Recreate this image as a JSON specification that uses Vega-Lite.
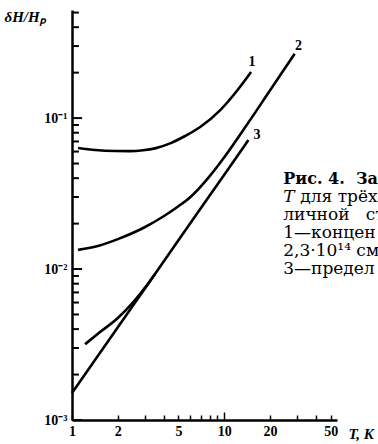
{
  "$schema": "https://vega.github.io/schema/vega-lite/v6.json",
  "width": 265,
  "height": 410,
  "autosize": {"type": "none"},
  "padding": {"left": 72, "top": 10, "right": 41, "bottom": 24},
  "background": "white",
  "config": {"view": {"stroke": null}},
  "datasets": {
    "curves": [
      {"curve": "1", "T": 1.095, "v": 0.0633},
      {"curve": "1", "T": 1.42, "v": 0.0614},
      {"curve": "1", "T": 1.92, "v": 0.0605},
      {"curve": "1", "T": 2.40, "v": 0.0604},
      {"curve": "1", "T": 2.93, "v": 0.0612},
      {"curve": "1", "T": 3.51, "v": 0.0630},
      {"curve": "1", "T": 4.41, "v": 0.0680},
      {"curve": "1", "T": 5.53, "v": 0.0761},
      {"curve": "1", "T": 6.95, "v": 0.0873},
      {"curve": "1", "T": 9.41, "v": 0.113},
      {"curve": "1", "T": 12.2, "v": 0.153},
      {"curve": "1", "T": 15.0, "v": 0.202},
      {"curve": "2", "T": 1.095, "v": 0.0134},
      {"curve": "2", "T": 1.5, "v": 0.01426},
      {"curve": "2", "T": 2, "v": 0.01578},
      {"curve": "2", "T": 3, "v": 0.01892},
      {"curve": "2", "T": 4, "v": 0.02238},
      {"curve": "2", "T": 5, "v": 0.02606},
      {"curve": "2", "T": 6, "v": 0.03001},
      {"curve": "2", "T": 8, "v": 0.0411},
      {"curve": "2", "T": 10, "v": 0.0550},
      {"curve": "2", "T": 14, "v": 0.0895},
      {"curve": "2", "T": 20, "v": 0.1528},
      {"curve": "2", "T": 29, "v": 0.2667},
      {"curve": "3", "T": 1, "v": 0.00151},
      {"curve": "3", "T": 2, "v": 0.00411},
      {"curve": "3", "T": 5, "v": 0.0155},
      {"curve": "3", "T": 10, "v": 0.0422},
      {"curve": "3", "T": 14.4, "v": 0.0715},
      {"curve": "4", "T": 1.22, "v": 0.00318},
      {"curve": "4", "T": 1.5, "v": 0.00377},
      {"curve": "4", "T": 2, "v": 0.00474},
      {"curve": "4", "T": 2.5, "v": 0.00596},
      {"curve": "4", "T": 3, "v": 0.00748},
      {"curve": "4", "T": 3.5, "v": 0.00925}
    ],
    "labels": [
      {"T": 15.2, "v": 0.235, "text": "1"},
      {"T": 30.7, "v": 0.30, "text": "2"},
      {"T": 16.4, "v": 0.077, "text": "3"}
    ],
    "minorTicks": [
      {"v": 0.002}, {"v": 0.003}, {"v": 0.004}, {"v": 0.005}, {"v": 0.006}, {"v": 0.007}, {"v": 0.008}, {"v": 0.009},
      {"v": 0.02}, {"v": 0.03}, {"v": 0.04}, {"v": 0.05}, {"v": 0.06}, {"v": 0.07}, {"v": 0.08}, {"v": 0.09},
      {"v": 0.2}, {"v": 0.3}, {"v": 0.4}, {"v": 0.5}
    ],
    "majorTicks": [{"v": 0.001}, {"v": 0.01}, {"v": 0.1}]
  },
  "layer": [
    {
      "data": {"name": "minorTicks"},
      "mark": {"type": "rule", "color": "black", "strokeWidth": 2},
      "encoding": {
        "y": {"field": "v", "type": "quantitative", "scale": {"type": "log", "domain": [0.001, 0.52], "nice": false}},
        "x": {"datum": 1, "type": "quantitative", "scale": {"type": "log", "domain": [1, 55], "nice": false}},
        "x2": {"datum": 1.11}
      }
    },
    {
      "data": {"name": "majorTicks"},
      "mark": {"type": "rule", "color": "black", "strokeWidth": 2},
      "encoding": {
        "y": {"field": "v", "type": "quantitative"},
        "x": {"datum": 1, "type": "quantitative"},
        "x2": {"datum": 1.165}
      }
    },
    {
      "data": {"name": "curves"},
      "mark": {"type": "line", "color": "black", "strokeWidth": 2.6, "interpolate": "monotone", "clip": false},
      "encoding": {
        "x": {
          "field": "T", "type": "quantitative",
          "scale": {"type": "log", "domain": [1, 55], "nice": false},
          "axis": {
            "values": [1, 2, 3, 4, 5, 6, 7, 8, 9, 10, 20, 30, 40, 50],
            "labelExpr": "indexof([1,2,5,10,20,50], datum.value) >= 0 ? datum.label : ''",
            "ticks": false,
            "grid": true,
            "gridColor": "black", "gridWidth": 1.5,
            "gridDash": {"condition": {"test": "datum.value == 10", "value": [8, 402]}, "value": [5, 405]},
            "gridDashOffset": {"condition": {"test": "datum.value == 10", "value": 8}, "value": 5},
            "domainColor": "black", "domainWidth": 2.5,
            "labelPadding": 4,
            "labelFont": "Liberation Sans Narrow", "labelFontWeight": "bold", "labelFontSize": 14, "labelColor": "black",
            "labelFlush": false, "labelOverlap": false,
            "title": "T, K",
            "titleFont": "Liberation Sans Narrow", "titleFontStyle": "italic", "titleFontWeight": "bold", "titleFontSize": 15, "titleColor": "black",
            "titleAlign": "left", "titleAnchor": "start", "titleBaseline": "middle",
            "titleX": 276, "titleY": 13
          }
        },
        "y": {
          "field": "v", "type": "quantitative",
          "scale": {"type": "log", "domain": [0.001, 0.52], "nice": false},
          "axis": {
            "values": [0.001, 0.01, 0.1],
            "labelExpr": "datum.value == 0.1 ? '10⁻¹' : datum.value == 0.01 ? '10⁻²' : '10⁻³'",
            "ticks": false,
            "grid": false,
            "domainColor": "black", "domainWidth": 2.5,
            "labelPadding": 5,
            "labelFont": "Liberation Sans Narrow", "labelFontWeight": "bold", "labelFontSize": 14, "labelColor": "black",
            "labelFlush": false, "labelOverlap": false,
            "title": "δH/Hₚ",
            "titleFont": "Liberation Sans Narrow", "titleFontStyle": "italic", "titleFontWeight": "bold", "titleFontSize": 15, "titleColor": "black",
            "titleAngle": 0, "titleAlign": "left", "titleBaseline": "middle", "titleAnchor": "end",
            "titleX": -68, "titleY": 6
          }
        },
        "detail": {"field": "curve"}
      }
    },
    {
      "data": {"name": "labels"},
      "mark": {"type": "text", "font": "Liberation Sans Narrow", "fontWeight": "bold", "fontSize": 14, "color": "black", "align": "center", "baseline": "middle"},
      "encoding": {
        "x": {"field": "T", "type": "quantitative"},
        "y": {"field": "v", "type": "quantitative"},
        "text": {"field": "text"}
      }
    },
    {
      "data": {"values": [{"T": 24.4, "v": 0.0396, "text": "Рис. 4.\u00a0\u00a0За"}]},
      "mark": {"type": "text", "font": "DejaVu Serif", "fontWeight": "bold", "fontSize": 16, "color": "black", "align": "left", "baseline": "middle"},
      "encoding": {
        "x": {"field": "T", "type": "quantitative"},
        "y": {"field": "v", "type": "quantitative"},
        "text": {"field": "text"}
      }
    },
    {
      "data": {"values": [{"T": 24.4, "v": 0.0300, "text": "T"}]},
      "mark": {"type": "text", "font": "DejaVu Serif", "fontStyle": "italic", "fontSize": 17, "color": "black", "align": "left", "baseline": "middle"},
      "encoding": {
        "x": {"field": "T", "type": "quantitative"},
        "y": {"field": "v", "type": "quantitative"},
        "text": {"field": "text"}
      }
    },
    {
      "data": {"values": [{"T": 24.4, "v": 0.0300, "text": "для трёх"}]},
      "mark": {"type": "text", "font": "DejaVu Serif", "fontSize": 17, "color": "black", "align": "left", "baseline": "middle", "dx": 17},
      "encoding": {
        "x": {"field": "T", "type": "quantitative"},
        "y": {"field": "v", "type": "quantitative"},
        "text": {"field": "text"}
      }
    },
    {
      "data": {"values": [
        {"T": 24.4, "v": 0.0228, "text": "личной\u00a0\u00a0\u00a0ст"},
        {"T": 24.4, "v": 0.0173, "text": "1—концен"},
        {"T": 24.4, "v": 0.0131, "text": "2,3·10¹⁴ см"},
        {"T": 24.4, "v": 0.0100, "text": "3—предел"}
      ]},
      "mark": {"type": "text", "font": "DejaVu Serif", "fontSize": 17, "color": "black", "align": "left", "baseline": "middle"},
      "encoding": {
        "x": {"field": "T", "type": "quantitative"},
        "y": {"field": "v", "type": "quantitative"},
        "text": {"field": "text"}
      }
    }
  ]
}
